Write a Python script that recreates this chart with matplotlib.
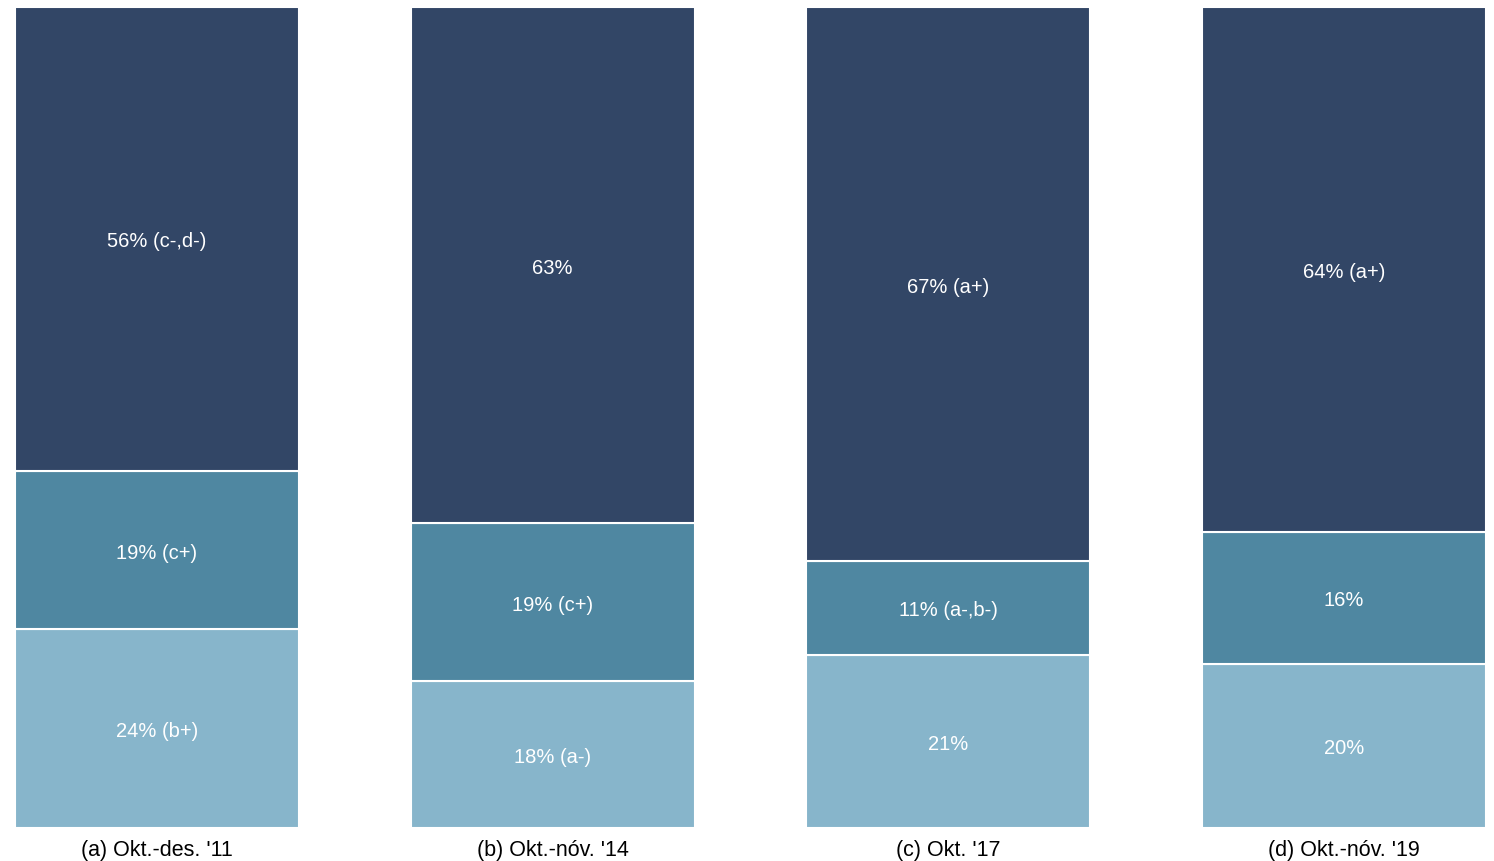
import matplotlib
matplotlib.use("Agg")
import matplotlib.pyplot as plt
import numpy as np

plt.rcParams['font.family'] = ['Liberation Sans', 'DejaVu Sans']

periods = ["(a) Okt.-des. '11", "(b) Okt.-nóv. '14", "(c) Okt. '17", "(d) Okt.-nóv. '19"]
# segment shares (bottom, middle, top), in percent
bottom_vals = [24.2, 17.9, 21.1, 20.0]
middle_vals = [19.3, 19.2, 11.4, 16.1]
top_vals = [56.5, 62.9, 67.5, 63.9]
bottom_labels = ["24% (b+)", "18% (a-)", "21%", "20%"]
middle_labels = ["19% (c+)", "19% (c+)", "11% (a-,b-)", "16%"]
top_labels = ["56% (c-,d-)", "63%", "67% (a+)", "64% (a+)"]

colors = ["#87b5cb", "#4f87a1", "#324666"]

fig = plt.figure(figsize=(14.94, 8.62), dpi=100)
ax = fig.add_axes([15/1494, 1 - 829/862, (1486-15)/1494, (829-8)/862])

x = np.arange(len(periods))
w = 0.717
b = np.array(bottom_vals)
m = np.array(middle_vals)
t = np.array(top_vals)
tot = b + m + t
b, m, t = b/tot*100, m/tot*100, t/tot*100

ax.bar(x, b, w, color=colors[0], edgecolor='white', linewidth=1.5)
ax.bar(x, m, w, bottom=b, color=colors[1], edgecolor='white', linewidth=1.5)
ax.bar(x, t, w, bottom=b+m, color=colors[2], edgecolor='white', linewidth=1.5)

for i in range(len(x)):
    for yv, lab in [(b[i]/2, bottom_labels[i]), (b[i] + m[i]/2, middle_labels[i]),
                    (b[i] + m[i] + t[i]/2, top_labels[i])]:
        ax.text(x[i], yv, lab, ha='center', va='center_baseline', color='white', fontsize=14.5)

ax.set_xlim(-w/2, len(x) - 1 + w/2)
ax.set_ylim(0, 100)
ax.set_xticks(x)
ax.set_xticklabels(periods, fontsize=15.5)
ax.tick_params(axis='x', length=0, pad=8)
ax.set_yticks([])
for s in ax.spines.values():
    s.set_visible(False)

fig.savefig("out.png", dpi=100)
